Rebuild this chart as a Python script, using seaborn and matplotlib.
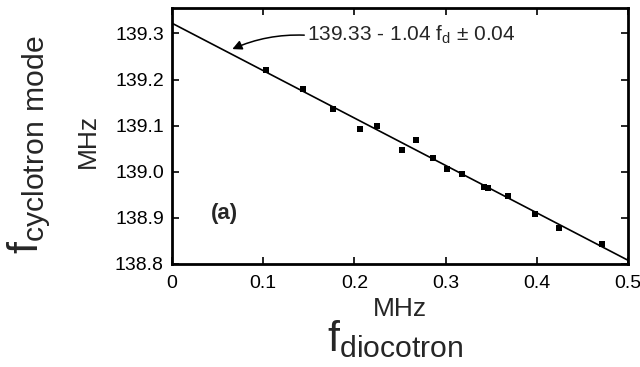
import matplotlib
matplotlib.use("Agg")
import matplotlib.pyplot as plt
import seaborn as sns
import pandas as pd

# data
f_dioc = [0.1035, 0.1435, 0.176, 0.206, 0.225, 0.252, 0.268, 0.286, 0.302,
          0.318, 0.342, 0.347, 0.369, 0.398, 0.424, 0.472]
f_cyc = [139.220, 139.180, 139.137, 139.092, 139.099, 139.047, 139.068, 139.029,
         139.005, 138.994, 138.966, 138.964, 138.947, 138.908, 138.877, 138.843]
fit_x = [0.0, 0.5]
fit_y = [139.322, 138.808]
x_ticks = [0, 0.1, 0.2, 0.3, 0.4, 0.5]
x_ticklabels = ["0", "0.1", "0.2", "0.3", "0.4", "0.5"]
y_ticks = [138.8, 138.9, 139.0, 139.1, 139.2, 139.3]
y_ticklabels = ["138.8", "138.9", "139.0", "139.1", "139.2", "139.3"]
fit_label = "139.33 - 1.04 f$_\\mathregular{d}$ ± 0.04"
panel_label = "(a)"
x_title = "f$_\\mathregular{diocotron}$"
y_title = "f$_\\mathregular{cyclotron\\ mode}$"
unit = "MHz"

sns.set_theme(style="ticks")
plt.rcParams["font.family"] = ["Liberation Sans", "DejaVu Sans"]
plt.rcParams["mathtext.default"] = "regular"

fig = plt.figure(figsize=(6.4, 3.67), dpi=100)
ax = fig.add_axes([0.269, 0.281, 0.712, 0.697])

pts = pd.DataFrame({"x": f_dioc, "y": f_cyc})
line = pd.DataFrame({"x": fit_x, "y": fit_y})
sns.lineplot(data=line, x="x", y="y", ax=ax, color="black", linewidth=1.2)
sns.scatterplot(data=pts, x="x", y="y", ax=ax, marker="s", s=22,
                color="black", edgecolor="black", linewidth=0, zorder=3)

ax.set_xlim(0, 0.5)
ax.set_ylim(138.8, 139.355)
ax.set_xticks(x_ticks)
ax.set_xticklabels(x_ticklabels)
ax.set_yticks(y_ticks)
ax.set_yticklabels(y_ticklabels)
ax.tick_params(direction="in", length=5, width=1.2, top=True, right=True,
               labelsize=14, colors="black", pad=6)
ax.tick_params(axis="x", pad=8)
for s in ax.spines.values():
    s.set_linewidth(2)
    s.set_color("black")
ax.set_xlabel("")
ax.set_ylabel("")

ax.annotate(fit_label, xy=(0.066, 139.266), xytext=(0.148, 139.296),
            fontsize=15, va="center", ha="left",
            arrowprops=dict(arrowstyle="-|>", color="black", lw=1.1,
                            mutation_scale=14, shrinkA=2, shrinkB=0,
                            patchA=None, relpos=(0, 0.5),
                            connectionstyle="arc3,rad=0.12"))
ax.text(0.042, 138.91, panel_label, fontsize=16, fontweight="bold",
        va="center", ha="left")

# axis labels
fig.text(400 / 640, 1 - 309 / 367, unit, fontsize=19, ha="center", va="center")
fig.text(395 / 640, 1 - 351 / 367, x_title, fontsize=31, ha="center",
         va="baseline")
fig.text(88 / 640, 1 - 141 / 367, unit, fontsize=19, ha="center", va="center",
         rotation=90)
fig.text(38 / 640, 1 - 145 / 367, y_title, fontsize=31, ha="center",
         va="baseline", rotation=90, rotation_mode="anchor")

fig.savefig("out.png", dpi=100)
